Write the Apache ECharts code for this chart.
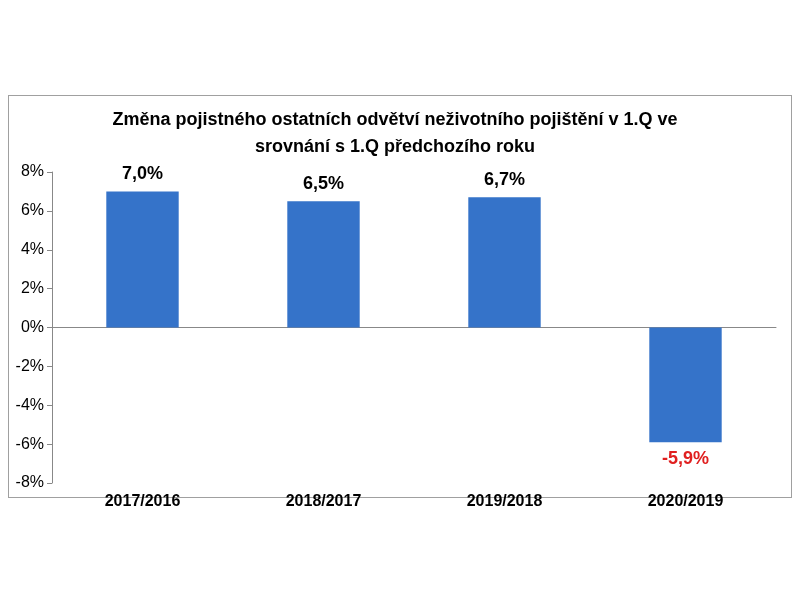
<!DOCTYPE html>
<html lang="cs">
<head>
<meta charset="UTF-8">
<script src="https://cdn.jsdelivr.net/npm/echarts@6/dist/echarts.min.js"></script>
<style>
  body { margin: 0; background: #fff; }
  #box { position: absolute; left: 8px; top: 95px; width: 782px; height: 401px; border: 1px solid #a0a0a0; }
  #main { width: 800px; height: 600px; }
</style>
</head>
<body>
<div id="box"></div>
<div id="main"></div>
<script>
var font = '"Liberation Sans Narrow", "Liberation Sans", Arial, sans-serif';
var categories = ['2017/2016', '2018/2017', '2019/2018', '2020/2019'];
var values = [7.0, 6.5, 6.7, -5.9];

var chart = echarts.init(document.getElementById('main'));
chart.setOption({
  animation: false,
  title: {
    text: 'Změna pojistného ostatních odvětví neživotního pojištění v 1.Q ve\nsrovnání s 1.Q předchozího roku',
    left: 390, top: 102, textAlign: 'center',
    textStyle: { fontFamily: font, fontSize: 18, fontWeight: 'bold', color: '#000', lineHeight: 27 }
  },
  grid: { left: 52, right: 24, top: 172, bottom: 117 },
  xAxis: {
    type: 'category', data: categories,
    axisLine: { onZero: true, lineStyle: { color: '#888' } },
    axisTick: { show: false },
    axisLabel: { fontFamily: font, fontSize: 16, fontWeight: 'bold', color: '#000', margin: 11 }
  },
  yAxis: {
    type: 'value', min: -8, max: 8, interval: 2,
    axisLine: { show: true, lineStyle: { color: '#888' } },
    axisTick: { show: true, length: 5, lineStyle: { color: '#888' } },
    splitLine: { show: false },
    axisLabel: { fontFamily: font, fontSize: 16, color: '#000', formatter: '{value}%' }
  },
  series: [{
    type: 'bar', barWidth: '40%',
    data: values.map(function (v) {
      return {
        value: v,
        label: {
          show: true, position: v < 0 ? 'bottom' : 'top', distance: 8,
          color: v < 0 ? '#e02020' : '#000',
          fontFamily: font, fontSize: 18, fontWeight: 'bold',
          formatter: function (p) { return p.value.toFixed(1).replace('.', ',') + '%'; }
        }
      };
    }),
    itemStyle: { color: '#3573c9' }
  }]
});
</script>
</body>
</html>
